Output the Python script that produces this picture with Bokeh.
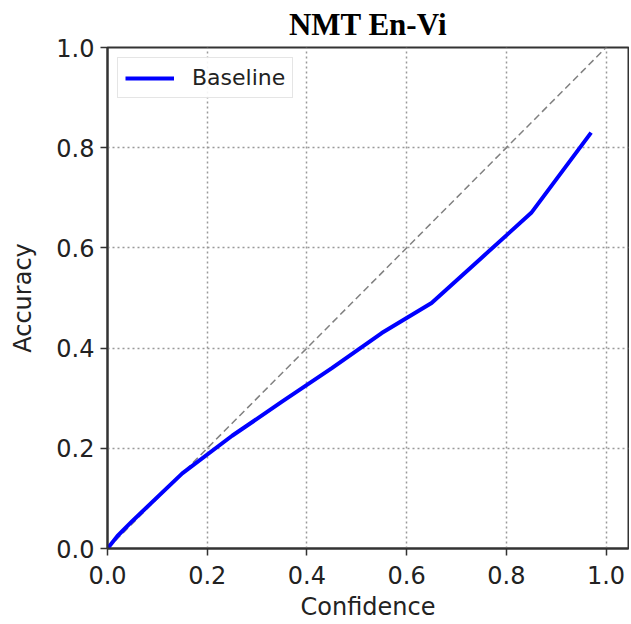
from bokeh.plotting import figure
from bokeh.models import Range1d, FixedTicker, Legend, LegendItem, PrintfTickFormatter
from bokeh.embed import file_html
from bokeh.resources import INLINE

confidence = [0.0, 0.02, 0.05, 0.15, 0.25, 0.35, 0.45, 0.55, 0.65, 0.75, 0.85, 0.97]
accuracy = [0.0, 0.025, 0.055, 0.15, 0.225, 0.293, 0.36, 0.43, 0.49, 0.58, 0.67, 0.83]
diag = [0.0, 1.0]
ticks = [0.0, 0.2, 0.4, 0.6, 0.8, 1.0]

p = figure(width=629, height=623, output_backend="svg", toolbar_location=None,
           x_range=Range1d(0, 1.045), y_range=Range1d(0, 1.0),
           min_border_left=107, min_border_right=1, min_border_top=47, min_border_bottom=75)

p.title.text = "NMT En-Vi"
p.title.align = "center"
p.title.vertical_align = "top"
p.title.text_font = "Liberation Serif"
p.title.text_font_style = "bold"
p.title.text_font_size = "31px"
p.title.text_color = "black"
p.title.standoff = 7

p.line(diag, diag, line_color="gray", line_dash="7 4", line_width=1.5)
r = p.line(confidence, accuracy, line_color="blue", line_width=4)

for ax in (p.xaxis, p.yaxis):
    ax.ticker = FixedTicker(ticks=ticks)
    ax.formatter = PrintfTickFormatter(format="%.1f")
    ax.major_label_text_font = "DejaVu Sans"
    ax.major_label_text_font_size = "24px"
    ax.major_label_text_color = "#222222"
    ax.axis_label_text_font = "DejaVu Sans"
    ax.axis_label_text_font_size = "24px"
    ax.axis_label_text_font_style = "normal"
    ax.axis_label_text_color = "#222222"
    ax.minor_tick_line_color = None
    ax.major_tick_out = 7
    ax.major_tick_in = 0
    ax.major_tick_line_color = "#333333"
    ax.major_tick_line_width = 1.5
    ax.axis_line_color = "#333333"
    ax.axis_line_width = 2

p.xaxis.major_label_standoff = 10
p.xaxis.axis_label_standoff = 6
p.yaxis.major_label_standoff = 6
p.yaxis.axis_label_standoff = 16

p.xaxis.axis_label = "Confidence"
p.yaxis.axis_label = "Accuracy"

p.outline_line_color = "#333333"
p.outline_line_width = 2

for g in (p.xgrid, p.ygrid):
    g.ticker = FixedTicker(ticks=ticks)
    g.grid_line_color = "#999999"
    g.grid_line_dash = "2 3"
    g.grid_line_width = 1.5

legend = Legend(items=[LegendItem(label="Baseline", renderers=[r])],
                location="top_left", margin=10, padding=7,
                label_text_font="DejaVu Sans", label_text_font_size="22px",
                label_text_color="#222222", glyph_width=49, label_standoff=18,
                border_line_color="#cccccc", border_line_width=1.5,
                background_fill_alpha=0.9)
p.add_layout(legend)

open("out.html", "w").write(file_html(p, INLINE))
